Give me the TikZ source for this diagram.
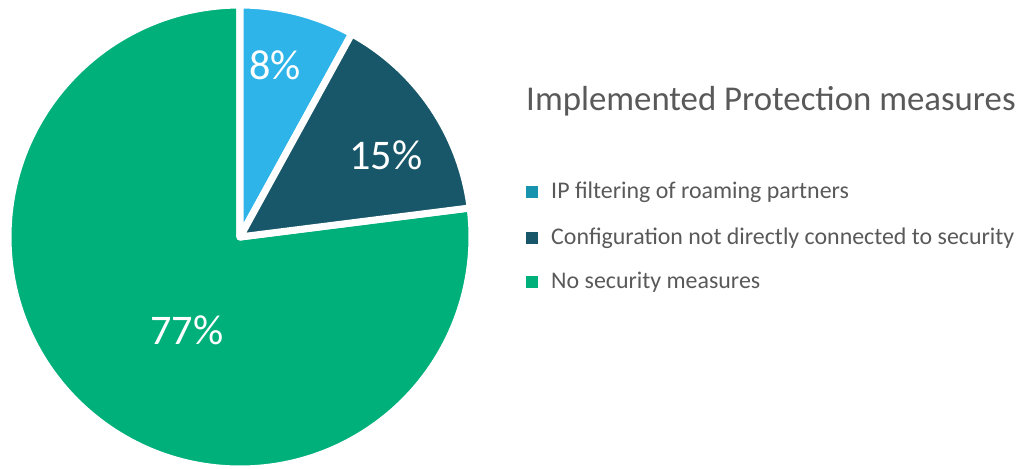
\documentclass[tikz,border=0pt]{standalone}
\usepackage{fontspec}
\setmainfont{Carlito}
\definecolor{sliceblue}{HTML}{2FB4EA}
\definecolor{keyblue}{HTML}{1793AE}
\definecolor{slicedark}{HTML}{175769}
\definecolor{slicegreen}{HTML}{00B07A}
\definecolor{labelgray}{HTML}{595959}
\begin{document}
\begin{tikzpicture}[x=0.03cm,y=0.03cm,
    slice/.style={draw=white,line width=6pt,line join=round},
    pct/.style={text=white,font=\fontsize{36}{36}\selectfont},
    keybox/.style={minimum size=9.5pt,inner sep=0pt},
    keytext/.style={anchor=west,text=labelgray,inner sep=0pt,font=\fontsize{20.4}{22}\selectfont}]
    \useasboundingbox (0,0) rectangle (1020,468);
    % pie slices
    \draw[slice,fill=slicegreen] (240,231) -- ++(90:232) arc[start angle=90,end angle=367.2,radius=232] -- cycle;
    \draw[slice,fill=sliceblue] (240,231) -- ++(61.2:232) arc[start angle=61.2,end angle=90,radius=232] -- cycle;
    \draw[slice,fill=slicedark] (240,231) -- ++(7.2:232) arc[start angle=7.2,end angle=61.2,radius=232] -- cycle;
    \node[pct] (p8) at (275,403) {8\%};
    \node[pct] (p15) at (386,313) {15\%};
    \node[pct] (p77) at (187,138) {77\%};
    % legend
    \node[anchor=west,text=labelgray,inner sep=0pt,font=\fontsize{29.7}{30}\selectfont] (title) at (526,367) {Implemented Protection measures};
    \node[keybox,fill=keyblue] (k1) at (532,276) {};
    \node[keybox,fill=slicedark] (k2) at (532,230) {};
    \node[keybox,fill=slicegreen] (k3) at (532,186) {};
    \node[keytext] (t1) at (551,276) {IP filtering of roaming partners};
    \node[keytext] (t2) at (551,230) {Configuration not directly connected to security};
    \node[keytext] (t3) at (551,186) {No security measures};
\end{tikzpicture}
\end{document}
